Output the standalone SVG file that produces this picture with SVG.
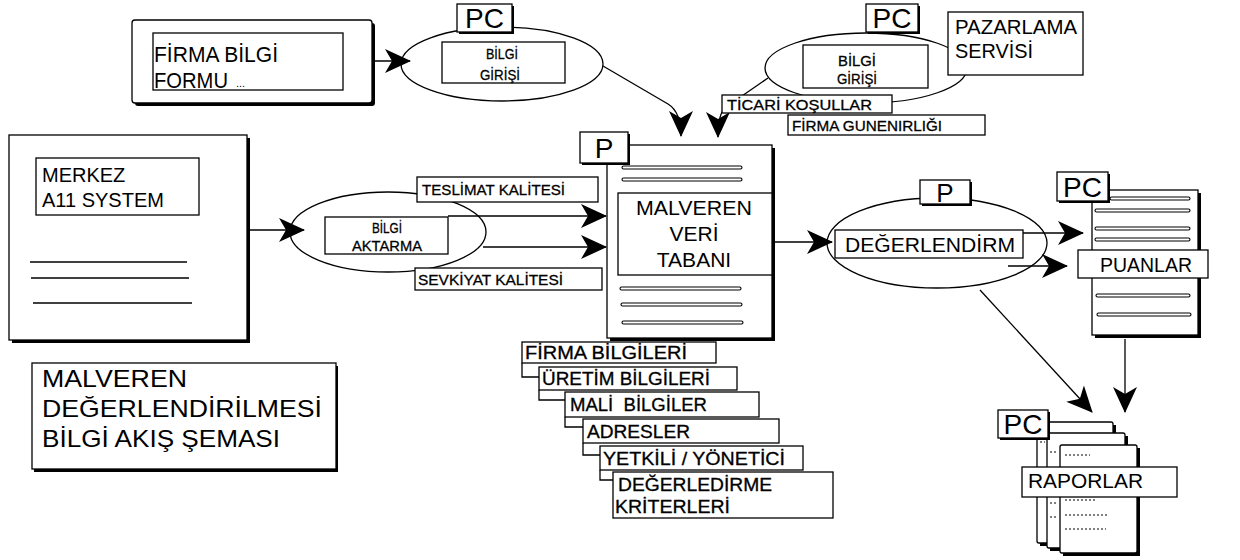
<svg xmlns="http://www.w3.org/2000/svg" width="1240" height="560" viewBox="0 0 1240 560">
  <defs>
    <marker id="ah" viewBox="0 0 26 24" refX="25" refY="12" markerWidth="26" markerHeight="24" markerUnits="userSpaceOnUse" orient="auto">
      <path d="M0,0 L26,12 L0,24 L7,12 Z" fill="#000"/>
    </marker>
  </defs>
  <style>
    .b { fill: #fff; stroke: #000; stroke-width: 1.3; }
    .sh { fill: #000; }
    .el { fill: none; stroke: #000; stroke-width: 1.3; }
    .ln { fill: none; stroke: #000; stroke-width: 1.3; }
    .arr { fill: none; stroke: #000; stroke-width: 1.3; marker-end: url(#ah); }
    .dl { fill: #fff; stroke: #000; stroke-width: 1.1; }
    .dash { stroke: #000; stroke-width: 1; stroke-dasharray: 2 2; }
    .t { font-family: "Liberation Sans", Arial, sans-serif; fill: #000; }
    .big { font-size: 21px; }
    .tag { font-size: 28px; }
    .sm { font-size: 15px; stroke: #000; stroke-width: 0.3; }
    .md { font-size: 18px; stroke: #000; stroke-width: 0.3; }
    .pre { white-space: pre; }
  </style>
  <rect width="1240" height="560" fill="#fff"/>

  <!-- ellipse outlines drawn first so the boxes sit over them -->
  <g id="processes">
    <ellipse class="el" cx="502" cy="64" rx="101" ry="37"/>
    <ellipse class="el" cx="866" cy="68" rx="101" ry="35"/>
    <ellipse class="el" cx="388" cy="232" rx="98" ry="40"/>
    <ellipse class="el" cx="937" cy="243" rx="110" ry="45"/>
  </g>

  <g id="connectors">
    <line class="arr" x1="343" y1="61" x2="410" y2="61"/>
    <path class="arr" d="M603,66 L668,104 Q681,112 681,136"/>
    <path class="arr" d="M768,78 L726,107 Q718,113 718,137"/>
    <line class="arr" x1="247" y1="230" x2="304" y2="230"/>
    <line class="arr" x1="448" y1="216" x2="606" y2="216"/>
    <line class="arr" x1="483" y1="247" x2="606" y2="247"/>
    <line class="arr" x1="774" y1="242" x2="832" y2="242"/>
    <line class="arr" x1="1023" y1="233" x2="1083" y2="233"/>
    <line class="arr" x1="1008" y1="266" x2="1067" y2="266"/>
    <line class="arr" x1="980" y1="290" x2="1092" y2="412"/>
    <line class="arr" x1="1125" y1="339" x2="1125" y2="412"/>
  </g>

  <!-- company information form -->
  <g id="firma-formu">
    <rect class="sh" x="135" y="23" width="240" height="83" rx="3"/>
    <rect class="b" x="132" y="20" width="240" height="83" rx="3"/>
    <rect class="b" x="153" y="33" width="190" height="57"/>
    <text class="t" x="154" y="62" font-size="22" textLength="124" lengthAdjust="spacingAndGlyphs">FİRMA BİLGİ</text>
    <text class="t" x="154" y="88" font-size="22" textLength="74" lengthAdjust="spacingAndGlyphs">FORMU</text>
    <text class="t" x="236" y="87" font-size="11">...</text>
  </g>

  <!-- data entry process (left) -->
  <g id="bilgi-girisi-1">
    <rect class="sh" x="459" y="6" width="55" height="28"/>
    <rect class="b" x="457" y="4" width="55" height="28"/>
    <text class="t tag" x="484.5" y="28" text-anchor="middle">PC</text>
    <rect class="b" x="442" y="42" width="123" height="41"/>
    <text class="t sm" x="502" y="59" text-anchor="middle" textLength="32" lengthAdjust="spacingAndGlyphs">BİLGİ</text>
    <text class="t sm" x="500" y="80" text-anchor="middle" textLength="40" lengthAdjust="spacingAndGlyphs">GİRİŞİ</text>
  </g>

  <!-- data entry process (right) -->
  <g id="bilgi-girisi-2">
    <rect class="sh" x="868" y="6" width="52" height="28"/>
    <rect class="b" x="866" y="4" width="52" height="28"/>
    <text class="t tag" x="892" y="28" text-anchor="middle">PC</text>
    <rect class="b" x="803" y="45" width="125" height="43"/>
    <text class="t sm" x="857" y="66" text-anchor="middle" textLength="38" lengthAdjust="spacingAndGlyphs">BİLGİ</text>
    <text class="t sm" x="857" y="84" text-anchor="middle" textLength="40" lengthAdjust="spacingAndGlyphs">GİRİŞİ</text>
  </g>

  <g id="pazarlama">
    <rect class="b" x="948" y="12" width="135" height="63"/>
    <text class="t" x="955" y="34" font-size="20" textLength="122" lengthAdjust="spacingAndGlyphs">PAZARLAMA</text>
    <text class="t" x="955" y="58" font-size="20" textLength="78" lengthAdjust="spacingAndGlyphs">SERVİSİ</text>
  </g>

  <g id="ticari-kosullar">
    <rect class="b" x="722" y="95" width="170" height="18"/>
    <text class="t sm" x="727" y="110" textLength="145" lengthAdjust="spacingAndGlyphs">TİCARİ KOŞULLAR</text>
  </g>

  <g id="firma-guvenirligi">
    <rect class="b" x="788" y="115" width="197" height="20"/>
    <text class="t sm" x="792" y="131" textLength="150" lengthAdjust="spacingAndGlyphs">FİRMA GUNENIRLIĞI</text>
  </g>

  <!-- central system -->
  <g id="merkez">
    <rect class="sh" x="12" y="138" width="238" height="205"/>
    <rect class="b" x="9" y="135" width="238" height="205"/>
    <rect class="b" x="36" y="158" width="163" height="57"/>
    <text class="t" x="42" y="182" font-size="20">MERKEZ</text>
    <text class="t" x="42" y="207" font-size="20">A11 SYSTEM</text>
    <line class="ln" x1="30" y1="262" x2="187" y2="262"/>
    <line class="ln" x1="31" y1="278" x2="189" y2="278"/>
    <line class="ln" x1="33" y1="303" x2="192" y2="303"/>
  </g>

  <!-- data transfer process -->
  <g id="bilgi-aktarma">
    <rect class="b" x="325" y="217" width="123" height="37"/>
    <text class="t sm" x="387" y="233" text-anchor="middle" textLength="30" lengthAdjust="spacingAndGlyphs">BİLGİ</text>
    <text class="t sm" x="387" y="251" text-anchor="middle" textLength="70" lengthAdjust="spacingAndGlyphs">AKTARMA</text>
  </g>

  <g id="teslimat">
    <rect class="b" x="417" y="177" width="181" height="25"/>
    <text class="t sm" x="422" y="195" font-size="16" textLength="143" lengthAdjust="spacingAndGlyphs">TESLİMAT KALİTESİ</text>
  </g>

  <g id="sevkiyat">
    <rect class="b" x="415" y="268" width="187" height="22"/>
    <text class="t sm" x="418" y="285" font-size="16" textLength="145" lengthAdjust="spacingAndGlyphs">SEVKİYAT KALİTESİ</text>
  </g>

  <!-- supplier database document -->
  <g id="veri-tabani">
    <rect class="sh" x="610" y="148" width="165" height="193"/>
    <rect class="b" x="607" y="145" width="165" height="193"/>
    <rect class="sh" x="582" y="134" width="48" height="31"/>
    <rect class="b" x="580" y="132" width="48" height="31"/>
    <text class="t tag" x="604" y="158" text-anchor="middle">P</text>
    <rect class="dl" x="622" y="166" width="120" height="3" rx="1.5"/>
    <rect class="dl" x="622" y="178" width="120" height="3" rx="1.5"/>
    <rect class="b" x="618" y="193" width="154" height="82"/>
    <text class="t big" x="694" y="215" text-anchor="middle" textLength="116" lengthAdjust="spacingAndGlyphs">MALVEREN</text>
    <text class="t big" x="694" y="241" text-anchor="middle">VERİ</text>
    <text class="t big" x="694" y="267" text-anchor="middle">TABANI</text>
    <rect class="dl" x="620" y="287" width="121" height="3" rx="1.5"/>
    <rect class="dl" x="621" y="303" width="121" height="3" rx="1.5"/>
    <rect class="dl" x="622" y="321" width="121" height="3" rx="1.5"/>
  </g>

  <!-- evaluation process -->
  <g id="degerlendirme">
    <rect class="sh" x="922" y="182" width="50" height="24"/>
    <rect class="b" x="920" y="180" width="50" height="24"/>
    <text class="t" x="945" y="202" font-size="26" text-anchor="middle">P</text>
    <rect class="b" x="835" y="230" width="188" height="28"/>
    <text class="t big" x="845" y="252" textLength="170" lengthAdjust="spacingAndGlyphs">DEĞERLENDİRM</text>
  </g>

  <!-- scores document -->
  <g id="puanlar">
    <rect class="sh" x="1095" y="193" width="106" height="145"/>
    <rect class="b" x="1092" y="190" width="106" height="145"/>
    <rect class="dl" x="1110" y="197" width="80" height="3" rx="1.5"/>
    <rect class="dl" x="1095" y="209" width="95" height="3" rx="1.5"/>
    <rect class="dl" x="1095" y="227" width="95" height="3" rx="1.5"/>
    <rect class="dl" x="1095" y="238" width="95" height="3" rx="1.5"/>
    <rect class="dl" x="1096" y="294" width="94" height="3" rx="1.5"/>
    <rect class="dl" x="1097" y="313" width="94" height="3" rx="1.5"/>
    <rect class="sh" x="1059" y="174" width="51" height="29"/>
    <rect class="b" x="1057" y="172" width="51" height="29"/>
    <text class="t tag" x="1082.5" y="197" text-anchor="middle">PC</text>
    <rect class="b" x="1078" y="250" width="130" height="28"/>
    <text class="t big" x="1100" y="272" textLength="92" lengthAdjust="spacingAndGlyphs">PUANLAR</text>
  </g>

  <!-- reports: stacked pages -->
  <g id="raporlar">
    <rect class="sh" x="1040" y="425" width="76" height="121"/>
    <rect class="b" x="1037" y="422" width="76" height="121" rx="2"/>
    <rect class="sh" x="1050" y="436" width="78" height="115"/>
    <rect class="b" x="1047" y="433" width="78" height="115" rx="2"/>
    <rect class="sh" x="1063" y="448" width="77" height="108"/>
    <rect class="b" x="1060" y="445" width="77" height="108" rx="2"/>
    <line class="dash" x1="1040" y1="442" x2="1045" y2="442"/>
    <line class="dash" x1="1050" y1="452" x2="1057" y2="452"/>
    <line class="dash" x1="1050" y1="503" x2="1057" y2="503"/>
    <line class="dash" x1="1050" y1="517" x2="1057" y2="517"/>
    <line class="dash" x1="1065" y1="455" x2="1090" y2="455"/>
    <line class="dash" x1="1065" y1="500" x2="1095" y2="500"/>
    <line class="dash" x1="1065" y1="515" x2="1108" y2="515"/>
    <line class="dash" x1="1065" y1="529" x2="1106" y2="529"/>
    <rect class="sh" x="1000" y="412" width="50" height="28"/>
    <rect class="b" x="998" y="410" width="50" height="28"/>
    <text class="t tag" x="1023" y="434" text-anchor="middle">PC</text>
    <rect class="b" x="1022" y="467" width="155" height="30"/>
    <text class="t big" x="1028" y="488" textLength="115" lengthAdjust="spacingAndGlyphs">RAPORLAR</text>
  </g>

  <!-- database record types, cascaded cards -->
  <g id="kayitlar">
    <path class="ln" d="M522,363 V377 H539"/>
    <path class="ln" d="M539,390 V400 H565"/>
    <path class="ln" d="M565,417 V427 H583"/>
    <path class="ln" d="M583,443 V455 H600"/>
    <path class="ln" d="M600,470 V480 H613"/>
    <rect class="b" x="522" y="342" width="194" height="21"/>
    <text class="t md" x="525" y="359" textLength="162" lengthAdjust="spacingAndGlyphs">FİRMA BİLGİLERİ</text>
    <rect class="b" x="539" y="367" width="198" height="23"/>
    <text class="t md" x="542" y="385" textLength="168" lengthAdjust="spacingAndGlyphs">ÜRETİM BİLGİLERİ</text>
    <rect class="b" x="565" y="392" width="194" height="25"/>
    <text class="t md pre" x="570" y="411" textLength="137" lengthAdjust="spacingAndGlyphs">MALİ  BİLGİLER</text>
    <rect class="b" x="583" y="419" width="196" height="24"/>
    <text class="t md" x="587" y="438" textLength="103" lengthAdjust="spacingAndGlyphs">ADRESLER</text>
    <rect class="b" x="600" y="446" width="203" height="24"/>
    <text class="t md" x="603" y="465" textLength="182" lengthAdjust="spacingAndGlyphs">YETKİLİ / YÖNETİCİ</text>
    <rect class="b" x="613" y="472" width="220" height="46"/>
    <text class="t md" x="618" y="491" textLength="154" lengthAdjust="spacingAndGlyphs">DEĞERLEDİRME</text>
    <text class="t md" x="615" y="513" textLength="115" lengthAdjust="spacingAndGlyphs">KRİTERLERİ</text>
  </g>

  <!-- title -->
  <g id="baslik">
    <rect class="sh" x="34" y="366" width="304" height="106"/>
    <rect class="b" x="32" y="363" width="304" height="106"/>
    <text class="t" x="42" y="387" font-size="24" textLength="145" lengthAdjust="spacingAndGlyphs">MALVEREN</text>
    <text class="t" x="42" y="417" font-size="24" textLength="280" lengthAdjust="spacingAndGlyphs">DEĞERLENDİRİLMESİ</text>
    <text class="t" x="42" y="447" font-size="24" textLength="238" lengthAdjust="spacingAndGlyphs">BİLGİ AKIŞ ŞEMASI</text>
  </g>
</svg>
